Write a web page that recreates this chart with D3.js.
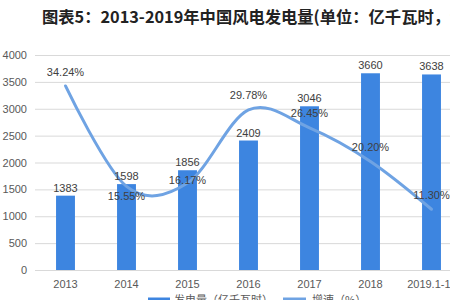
<!DOCTYPE html>
<html><head><meta charset="utf-8">
<script src="https://cdn.jsdelivr.net/npm/d3@7"></script>
<style>body{margin:0;background:#fff;overflow:hidden}svg{display:block}</style>
</head><body>
<svg id="c" width="450" height="300"></svg>
<script>
const categories = ["2013","2014","2015","2016","2017","2018","2019.1-11"];
const output = [1383,1598,1856,2409,3046,3660,3638];
const growth = [34.24,15.55,16.17,29.78,26.45,20.20,11.30];
const yTicks = [0,500,1000,1500,2000,2500,3000,3500,4000];
const title = "图表5：2013-2019年中国风电发电量(单位：亿千瓦时，%)";
const legendLabels = ["发电量（亿千瓦时）","增速（%）"];

(function(){
const svg = d3.select("#c");
const font = "'Noto Sans CJK SC','Microsoft YaHei',sans-serif";
const pL = 35, pR = 462, pT = 55, pB = 270;
const x = d3.scaleBand().domain(categories).range([pL, pR]).paddingInner(0.69).paddingOuter(0.345);
const y = d3.scaleLinear().domain([0,4000]).range([pB, pT]);
const y2 = d3.scaleLinear().domain([0,40]).range([pB, pT]);

svg.append("text").attr("x",42).attr("y",23).attr("font-family",font).attr("font-size",16.3)
  .attr("font-weight","bold").attr("fill","#222").text(title);

const ax = svg.append("g").attr("transform",`translate(${pL},0)`)
  .call(d3.axisLeft(y).tickValues(yTicks).tickFormat(d3.format("d")).tickSize(-(pR-pL)).tickPadding(8));
ax.select(".domain").remove();
ax.selectAll(".tick line").attr("stroke","#d9d9d9");
ax.selectAll(".tick text").attr("font-family","Arial,'Liberation Sans',sans-serif").attr("font-size",11).attr("fill","#595959");

svg.selectAll("rect.bar").data(output).enter().append("rect")
  .attr("x",(d,i)=>x(categories[i])).attr("width",x.bandwidth())
  .attr("y",d=>y(d)).attr("height",d=>pB-y(d)).attr("fill","#3d85e0");

const xa = svg.append("g").attr("transform",`translate(0,${pB})`).call(d3.axisBottom(x).tickSize(0).tickPadding(10));
xa.select(".domain").remove();
xa.selectAll("text").attr("font-family","Arial,'Liberation Sans',sans-serif").attr("font-size",11).attr("fill","#595959");

const cx = i => x(categories[i]) + x.bandwidth()/2;
const line = d3.line().x((d,i)=>cx(i)).y(d=>y2(d)).curve(d3.curveCardinal.tension(0));
svg.append("path").datum(growth).attr("d",line).attr("fill","none")
  .attr("stroke","#6fa3e3").attr("stroke-width",3).attr("stroke-linecap","round");

svg.selectAll("text.bl").data(output).enter().append("text")
  .attr("x",(d,i)=>cx(i)).attr("y",d=>y(d)-4).attr("text-anchor","middle")
  .attr("font-family","Arial,'Liberation Sans',sans-serif").attr("font-size",11).attr("fill","#404040").text(d=>d);

const pctDy = [-10,14,1,-11,-11,-10,-10];
svg.selectAll("text.pl").data(growth).enter().append("text")
  .attr("x",(d,i)=>cx(i)).attr("y",(d,i)=>y2(d)+pctDy[i]).attr("text-anchor","middle")
  .attr("font-family","Arial,'Liberation Sans',sans-serif").attr("font-size",11).attr("fill","#404040")
  .text(d=>d.toFixed(2)+"%");

svg.append("line").attr("x1",148).attr("x2",170).attr("y1",299).attr("y2",299).attr("stroke","#3d85e0").attr("stroke-width",3);
svg.append("text").attr("x",174).attr("y",304).attr("font-family",font).attr("font-size",11).attr("fill","#595959").text(legendLabels[0]);
svg.append("line").attr("x1",283).attr("x2",306).attr("y1",299).attr("y2",299).attr("stroke","#6fa3e3").attr("stroke-width",3);
svg.append("text").attr("x",312).attr("y",304).attr("font-family",font).attr("font-size",11).attr("fill","#595959").text(legendLabels[1]);
})();
</script>
</body></html>
